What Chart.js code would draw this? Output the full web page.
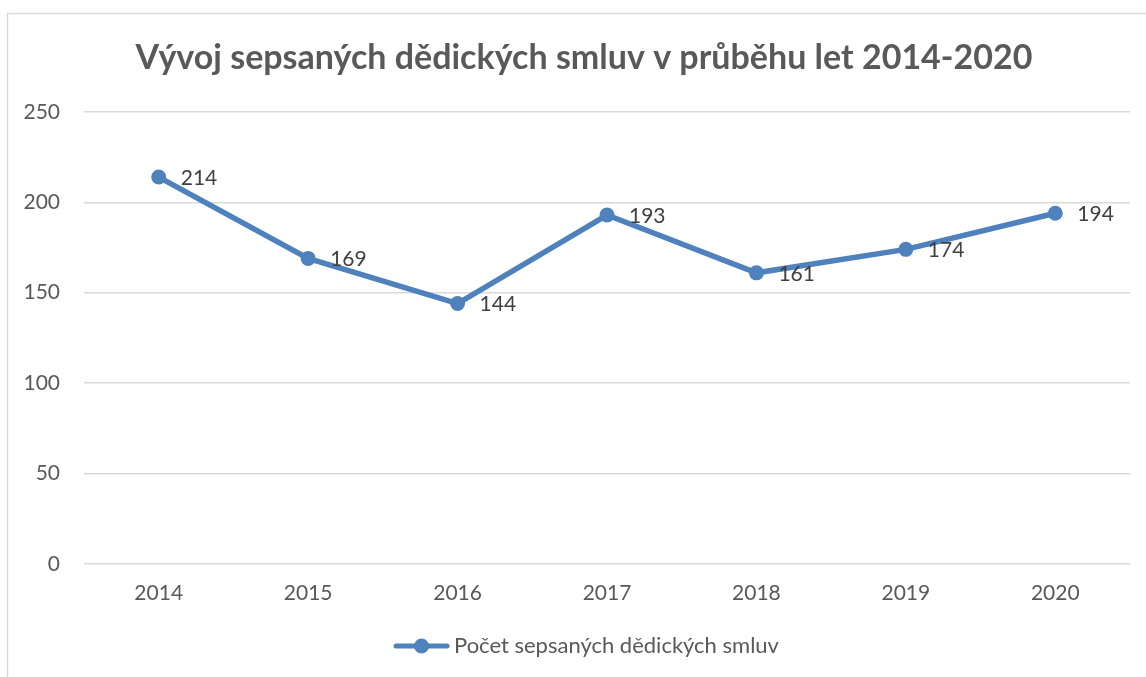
<!DOCTYPE html>
<html>
<head>
<meta charset="utf-8">
<script src="https://cdn.jsdelivr.net/npm/chart.js@4/dist/chart.umd.min.js"></script>
<style>
  html, body { margin: 0; padding: 0; background: #fff; }
  #wrap { width: 1146px; height: 677px; position: relative; }
</style>
</head>
<body>
<div id="wrap"><canvas id="chart"></canvas></div>
<script>
const years = ['2014', '2015', '2016', '2017', '2018', '2019', '2020']
const contracts = [214, 169, 144, 193, 161, 174, 194]
const seriesLabel = 'Počet sepsaných dědických smluv'
const chartTitle = 'Vývoj sepsaných dědických smluv v průběhu let 2014-2020'

const blue = '#4f81bd'
const font = 'Lato'
const legendSize = 22

// the legend entry sits a bit right of centre in the original, so the
// marker box is widened to push the text over
const measure = document.createElement('canvas').getContext('2d')
measure.font = `${legendSize}px ${font}`
const textW = measure.measureText(seriesLabel).width
const boxW = Math.max(20, textW - 233)

// legend marker: line with a dot, like in Excel
const markerW = Math.round(boxW + 30)
const marker = document.createElement('canvas')
marker.width = markerW
marker.height = 16
const mctx = marker.getContext('2d')
const inkStart = boxW / 2 + markerW / 2 - 50
mctx.strokeStyle = blue
mctx.lineWidth = 5
mctx.lineCap = 'round'
mctx.beginPath()
mctx.moveTo(inkStart + 3, 8)
mctx.lineTo(inkStart + 54, 8)
mctx.stroke()
mctx.fillStyle = blue
mctx.beginPath()
mctx.arc(inkStart + 28.5, 8, 7.5, 0, Math.PI * 2)
mctx.fill()

// outer frame + title (title is drawn here because it is off-centre)
const framePlugin = {
  id: 'frame',
  beforeDraw(chart) {
    const ctx = chart.ctx
    ctx.save()
    ctx.strokeStyle = '#d9d9d9'
    ctx.lineWidth = 1.5
    ctx.strokeRect(7.5, 13.5, 1400, 900)
    ctx.font = `bold 34px ${font}`
    ctx.fillStyle = '#595959'
    ctx.textAlign = 'center'
    ctx.textBaseline = 'middle'
    ctx.fillText(chartTitle, 584, 58)
    ctx.restore()
  }
}

// value labels right of each point
const valueLabels = {
  id: 'valueLabels',
  afterDatasetsDraw(chart) {
    const ctx = chart.ctx
    const meta = chart.getDatasetMeta(0)
    ctx.save()
    ctx.font = `21px ${font}`
    ctx.fillStyle = '#404040'
    ctx.textAlign = 'left'
    ctx.textBaseline = 'middle'
    meta.data.forEach((pt, i) => {
      ctx.fillText(String(contracts[i]), pt.x + 22, pt.y + 1)
    })
    ctx.restore()
  }
}

new Chart(document.getElementById('chart'), {
  type: 'line',
  data: {
    labels: years,
    datasets: [{
      label: seriesLabel,
      data: contracts,
      borderColor: blue,
      backgroundColor: blue,
      borderWidth: 5.5,
      pointRadius: 7.5,
      pointHoverRadius: 7.5,
      pointBackgroundColor: blue,
      pointBorderWidth: 0,
      tension: 0
    }]
  },
  options: {
    responsive: true,
    maintainAspectRatio: false,
    animation: false,
    layout: {
      padding: { left: 0, right: 16, top: 112, bottom: 10 }
    },
    plugins: {
      title: { display: false },
      legend: {
        position: 'bottom',
        labels: {
          color: '#595959',
          font: { family: font, size: legendSize },
          usePointStyle: true,
          pointStyleWidth: boxW,
          padding: 10,
          generateLabels(chart) {
            const items = Chart.defaults.plugins.legend.labels.generateLabels(chart)
            items.forEach(item => { item.pointStyle = marker })
            return items
          }
        }
      },
      tooltip: { enabled: false }
    },
    scales: {
      x: {
        offset: true,
        afterFit(scale) { scale.height += 2 },
        grid: { display: false, drawTicks: false },
        border: { display: false },
        ticks: {
          color: '#595959',
          font: { family: font, size: 21 },
          padding: 17
        }
      },
      y: {
        min: 0,
        max: 250,
        afterFit(scale) { scale.width = 84 },
        grid: { color: '#d9d9d9', lineWidth: 1.5, drawTicks: false },
        border: { display: false },
        ticks: {
          stepSize: 50,
          color: '#595959',
          font: { family: font, size: 21 },
          padding: 24
        }
      }
    }
  },
  plugins: [framePlugin, valueLabels]
})
</script>
</body>
</html>
